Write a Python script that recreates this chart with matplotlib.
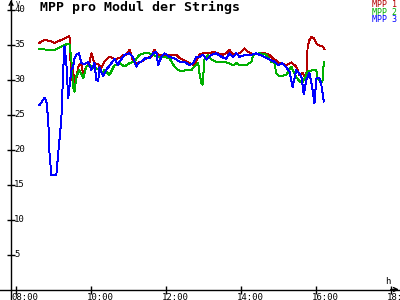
import matplotlib
matplotlib.use("Agg")
import matplotlib.pyplot as plt

# ---------------- data ----------------
title = "MPP pro Modul der Strings"
series_names = ["MPP 1", "MPP 2", "MPP 3"]
x_tick_labels = ["08:00", "10:00", "12:00", "14:00", "16:00", "18:00"]
y_ticks = [5, 10, 15, 20, 25, 30, 35, 40]

mpp1_time = ["08:38", "08:46", "08:54", "09:02", "09:10", "09:18", "09:26", "09:28", "09:30", "09:32",
             "09:34", "09:40", "09:45", "09:48", "09:53", "09:58", "10:01", "10:06", "10:12", "10:17",
             "10:21", "10:25", "10:30", "10:38", "10:46", "10:52", "10:57", "11:00", "11:02", "11:05",
             "11:08", "11:13", "11:21", "11:29", "11:37", "11:42", "11:48", "11:56", "12:04", "12:17",
             "12:22", "12:28", "12:38", "12:46", "12:54", "13:00", "13:10", "13:16", "13:24", "13:32",
             "13:37", "13:42", "13:48", "13:58", "14:06", "14:12", "14:20", "14:30", "14:38", "14:46",
             "14:52", "14:57", "15:00", "15:05", "15:13", "15:21", "15:29", "15:34", "15:39", "15:42",
             "15:46", "15:47", "15:50", "15:53", "15:57", "16:01", "16:06", "16:11", "16:14"]
mpp1_val = [35.3, 35.7, 35.6, 35.3, 35.6, 35.9, 36.3, 32.0, 30.0, 31.4,
            28.6, 31.9, 32.4, 30.7, 31.9, 32.4, 33.8, 32.4, 32.2, 31.7,
            32.5, 32.9, 33.3, 33.0, 33.1, 33.6, 33.6, 34.0, 34.3, 33.6,
            32.6, 32.4, 32.6, 33.1, 33.3, 34.3, 33.6, 33.6, 33.6, 33.6,
            33.1, 32.9, 32.4, 32.1, 33.6, 33.8, 33.8, 34.0, 33.8, 33.6,
            33.8, 34.3, 33.6, 33.8, 34.5, 34.0, 33.6, 33.8, 33.8, 33.6,
            33.0, 32.8, 32.4, 32.4, 32.1, 32.5, 31.9, 30.7, 31.0, 30.5,
            31.2, 34.8, 35.7, 36.1, 36.0, 35.2, 34.9, 34.8, 34.4]

mpp2_time = ["08:38", "08:54", "09:02", "09:10", "09:18", "09:26", "09:29", "09:32", "09:34", "09:37",
             "09:42", "09:48", "09:53", "09:58", "10:06", "10:14", "10:20", "10:22", "10:30", "10:38",
             "10:46", "10:54", "11:02", "11:10", "11:18", "11:26", "11:34", "11:48", "11:58", "12:06",
             "12:14", "12:20", "12:25", "12:33", "12:41", "12:46", "12:52", "12:54", "12:57", "12:59",
             "13:02", "13:08", "13:13", "13:21", "13:32", "13:40", "13:48", "13:53", "13:58", "14:09",
             "14:17", "14:20", "14:30", "14:41", "14:49", "14:54", "14:57", "15:02", "15:13", "15:21",
             "15:28", "15:34", "15:39", "15:47", "15:55", "16:01", "16:03", "16:09", "16:11", "16:13"]
mpp2_val = [34.4, 34.3, 34.3, 34.6, 35.0, 35.2, 32.9, 29.0, 28.3, 30.5,
            31.4, 30.2, 31.9, 32.1, 31.7, 31.5, 31.0, 31.4, 30.7, 32.1,
            32.4, 31.9, 32.4, 32.6, 33.6, 33.8, 33.8, 33.3, 33.3, 33.1,
            31.9, 31.4, 31.2, 31.4, 31.4, 31.9, 32.4, 31.0, 29.5, 29.3,
            32.9, 33.6, 32.9, 32.6, 32.6, 32.4, 32.1, 32.4, 32.1, 32.1,
            32.6, 33.6, 33.8, 33.6, 32.6, 32.4, 30.9, 30.5, 30.7, 31.9,
            30.5, 29.8, 29.6, 31.2, 31.4, 31.4, 30.3, 29.5, 30.0, 32.6]

mpp3_time = ["08:38", "08:46", "08:49", "08:52", "08:54", "08:57", "09:05", "09:08", "09:13", "09:16",
             "09:18", "09:21", "09:24", "09:26", "09:29", "09:32", "09:34", "09:37", "09:41", "09:45",
             "09:50", "09:56", "10:01", "10:06", "10:09", "10:12", "10:14", "10:20", "10:25", "10:30",
             "10:38", "10:44", "10:46", "10:52", "10:54", "11:02", "11:08", "11:13", "11:16", "11:21",
             "11:29", "11:34", "11:40", "11:45", "11:48", "11:53", "11:58", "12:06", "12:14", "12:22",
             "12:30", "12:38", "12:44", "12:49", "12:54", "13:00", "13:05", "13:13", "13:21", "13:29",
             "13:37", "13:42", "13:48", "13:53", "13:58", "14:09", "14:17", "14:25", "14:30", "14:38",
             "14:46", "14:54", "15:00", "15:06", "15:13", "15:18", "15:23", "15:29", "15:37", "15:41",
             "15:45", "15:50", "15:55", "15:58", "16:01", "16:06", "16:09", "16:13"]
mpp3_val = [26.4, 27.4, 27.0, 24.3, 19.6, 16.4, 16.4, 19.5, 24.3, 31.4,
            34.8, 32.4, 27.4, 29.0, 31.4, 31.9, 33.1, 33.6, 33.8, 32.4,
            32.2, 32.6, 31.4, 32.4, 30.0, 29.8, 31.8, 30.5, 31.5, 32.0,
            33.0, 32.1, 32.6, 33.3, 33.6, 33.8, 33.2, 31.9, 32.4, 32.6,
            33.2, 33.1, 33.8, 34.0, 32.1, 33.3, 33.8, 33.3, 33.1, 32.6,
            32.6, 32.1, 32.4, 33.3, 33.3, 33.6, 32.9, 33.6, 33.8, 33.3,
            33.0, 33.8, 33.3, 33.8, 33.3, 33.6, 33.6, 33.8, 33.6, 33.3,
            32.9, 32.6, 32.1, 32.4, 31.8, 31.2, 29.0, 31.4, 30.5, 27.9,
            30.0, 31.0, 28.6, 26.7, 30.2, 30.2, 29.3, 26.9]

colors = ["#b40000", "#00b000", "#0000ff"]


def to_hours(lst):
    out = []
    for s in lst:
        h, m = s.split(":")
        out.append(int(h) + int(m) / 60.0)
    return out


# ---------------- figure ----------------
fig = plt.figure(figsize=(4, 3), dpi=100)
ax = fig.add_axes([0, 0, 1, 1])
ax.set_xlim(7.581, 18.248)
ax.set_ylim(-1.50, 41.43)
y_axis_x = 7.875

for name, t, v, c in zip(series_names, [mpp1_time, mpp2_time, mpp3_time],
                         [mpp1_val, mpp2_val, mpp3_val], colors):
    ax.plot(to_hours(t), v, color=c, lw=0.7, antialiased=False, zorder=3)

# axes lines
for side in ["top", "right"]:
    ax.spines[side].set_visible(False)
ax.spines["left"].set_position(("data", y_axis_x))
ax.spines["bottom"].set_position(("data", 0))
ax.spines["left"].set_linewidth(1.0)
ax.spines["bottom"].set_linewidth(1.0)

xt = to_hours(x_tick_labels)
ax.set_xticks(xt)
ax.set_yticks(y_ticks)
ax.set_xticklabels([])
ax.set_yticklabels([])
ax.tick_params(direction="inout", length=6, width=1.0, colors="black")

mono = "DejaVu Sans Mono"
for t, lab in zip(xt, x_tick_labels):
    ax.annotate(lab, (t, 0), xytext=(-4, -10), textcoords="offset pixels",
                ha="left", va="baseline", fontsize=6.5, family=mono)
for y in y_ticks:
    ax.annotate(str(y), (y_axis_x, y), xytext=(3, 0), textcoords="offset pixels",
                ha="left", va="center", fontsize=6.5, family=mono)

# arrows
ax.annotate("", xy=(y_axis_x, 41.43), xytext=(y_axis_x, 40.0),
            arrowprops=dict(arrowstyle="->", lw=1.0, color="black",
                            shrinkA=0, shrinkB=0, mutation_scale=7))
ax.annotate("", xy=(18.22, 0), xytext=(18.0, 0),
            arrowprops=dict(arrowstyle="->", lw=1.0, color="black",
                            shrinkA=0, shrinkB=0, mutation_scale=7))
ax.text(15.5 / 400, 1 - 0.5 / 300, "V", transform=ax.transAxes, fontsize=5, family=mono,
        ha="left", va="top")
ax.text(0.962, 0.047, "h", transform=ax.transAxes, fontsize=6.5, family=mono,
        ha="left", va="bottom")

# title
fig.text(40 / 400, 1 - 11 / 300, title, fontsize=9.5, fontweight="bold",
         family=mono, ha="left", va="baseline")

# legend
for i, (name, c) in enumerate(zip(series_names, colors)):
    fig.text(397 / 400, 1 - (7 + 7.7 * i) / 300, name, fontsize=6, family=mono,
             color=c, ha="right", va="baseline")

fig.savefig("out.png", dpi=100)
